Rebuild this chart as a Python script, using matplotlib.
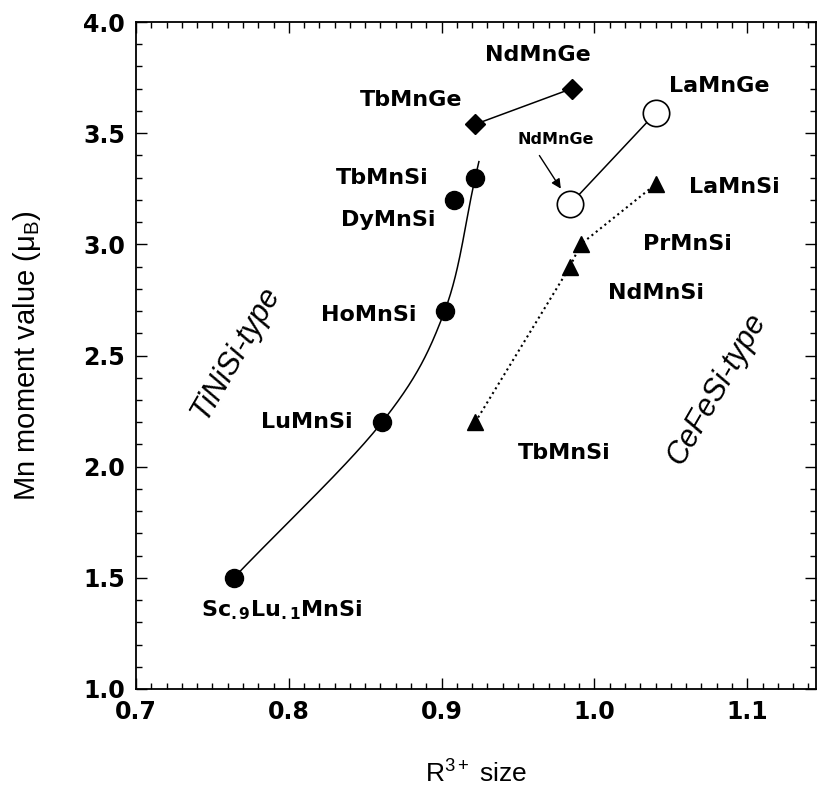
import matplotlib
matplotlib.use('Agg')
import matplotlib.pyplot as plt
from matplotlib.ticker import MultipleLocator
import numpy as np

plt.rcParams['font.family'] = ['Liberation Sans', 'DejaVu Sans']
plt.rcParams['mathtext.fontset'] = 'custom'
plt.rcParams['mathtext.rm'] = 'Liberation Sans'
plt.rcParams['mathtext.bf'] = 'DejaVu Sans:bold'
plt.rcParams['mathtext.it'] = 'Liberation Sans:italic'

# TiNiSi-type RMnSi (filled circles)
tinisi_names = [r'Sc$_{\mathbf{.9}}$Lu$_{\mathbf{.1}}$MnSi', 'LuMnSi', 'HoMnSi', 'DyMnSi', 'TbMnSi']
tinisi_r = [0.764, 0.861, 0.902, 0.908, 0.922]
tinisi_m = [1.50, 2.20, 2.70, 3.20, 3.30]

# TiNiSi-type RMnGe (diamonds)
ge_names = ['TbMnGe', 'NdMnGe']
ge_r = [0.922, 0.985]
ge_m = [3.54, 3.70]

# CeFeSi-type RMnGe (open circles)
cefe_ge_names = ['NdMnGe', 'LaMnGe']
cefe_ge_r = [0.984, 1.040]
cefe_ge_m = [3.18, 3.59]

# CeFeSi-type RMnSi (triangles)
cefe_si_names = ['TbMnSi', 'NdMnSi', 'PrMnSi', 'LaMnSi']
cefe_si_r = [0.922, 0.984, 0.991, 1.040]
cefe_si_m = [2.20, 2.90, 3.00, 3.27]


def smooth_curve(ax, xs, ys, n=60, tail=0.12):
    # Catmull-Rom spline through the points, done in display space
    pts = ax.transData.transform(np.column_stack([xs, ys]))
    p = np.vstack([2 * pts[0] - pts[1], pts, 2 * pts[-1] - pts[-2]])
    out = []
    for i in range(1, len(p) - 2):
        p0, p1, p2, p3 = p[i - 1], p[i], p[i + 1], p[i + 2]
        t = np.linspace(0, 1, n)[:, None]
        out.append(0.5 * (2 * p1 + (-p0 + p2) * t + (2 * p0 - 5 * p1 + 4 * p2 - p3) * t ** 2
                          + (-p0 + 3 * p1 - 3 * p2 + p3) * t ** 3))
    out.append(pts[-1] + tail * (pts[-1] - pts[-2]))
    out = np.vstack(out)
    return ax.transData.inverted().transform(out).T


fig = plt.figure(figsize=(8.17, 7.86), dpi=100)
ax = fig.add_axes([136 / 817, 1 - 689 / 786, (816 - 136) / 817, (689 - 22) / 786])
ax.set_xlim(0.7, 1.145)
ax.set_ylim(1.0, 4.0)

# guide-to-the-eye: passes Sc, Lu, Ho and Tb, grazing Dy
keep = [0, 1, 2, 4]
cx, cy = smooth_curve(ax, [tinisi_r[i] for i in keep], [tinisi_m[i] for i in keep])
ax.plot(cx, cy, color='k', lw=1.1, zorder=2)
ax.plot(tinisi_r, tinisi_m, 'o', color='k', ms=13, zorder=3)

ax.plot(ge_r, ge_m, '-D', color='k', ms=10, lw=1.1, zorder=3)
ax.plot(cefe_ge_r, cefe_ge_m, '-o', color='k', mfc='white', mec='k', mew=1.2, ms=19, lw=1.1, zorder=3)
ax.plot(cefe_si_r, cefe_si_m, ':', color='k', lw=1.5, zorder=2)
ax.plot(cefe_si_r, cefe_si_m, '^', color='k', ms=12, zorder=3)

lab = dict(fontsize=16, fontweight='bold', family='DejaVu Sans', ha='center', va='center')
# label positions for the points
ax.text(0.795, 1.356, tinisi_names[0], **lab)
ax.text(0.812, 2.20, tinisi_names[1], **lab)
ax.text(0.852, 2.68, tinisi_names[2], **lab)
ax.text(0.865, 3.11, tinisi_names[3], **lab)
ax.text(0.861, 3.30, tinisi_names[4], **lab)
ax.text(0.880, 3.65, ge_names[0], **lab)
ax.text(0.963, 3.85, ge_names[1], **lab)
ax.text(1.082, 3.71, cefe_ge_names[1], **lab)
ax.text(0.975, 3.47, cefe_ge_names[0], fontsize=11.5, fontweight='bold', family='DejaVu Sans',
        ha='center', va='center')
ax.annotate('', xy=(0.979, 3.24), xytext=(0.963, 3.41),
            arrowprops=dict(arrowstyle='-|>', color='k', lw=1.0, mutation_scale=14))
ax.text(0.980, 2.06, cefe_si_names[0], **lab)
ax.text(1.0405, 2.78, cefe_si_names[1], **lab)
ax.text(1.061, 3.00, cefe_si_names[2], **lab)
ax.text(1.0915, 3.26, cefe_si_names[3], **lab)

ax.text(0.765, 2.51, 'TiNiSi-type', fontsize=22, style='italic', rotation=60,
        ha='center', va='center')
ax.text(1.080, 2.35, 'CeFeSi-type', fontsize=22, style='italic', rotation=60,
        ha='center', va='center')

ax.xaxis.set_major_locator(MultipleLocator(0.1))
ax.xaxis.set_minor_locator(MultipleLocator(0.01))
ax.yaxis.set_major_locator(MultipleLocator(0.5))
ax.yaxis.set_minor_locator(MultipleLocator(0.1))
ax.set_xticks(np.arange(0.7, 1.15, 0.1))
ax.set_xticklabels(['0.7', '0.8', '0.9', '1.0', '1.1'])
ax.tick_params(which='both', direction='in', top=True, right=True, width=1.0)
ax.tick_params(which='major', length=8, labelsize=17, pad=8)
ax.tick_params(which='minor', length=4)
for t in ax.get_xticklabels() + ax.get_yticklabels():
    t.set_fontweight('bold')
    t.set_family('DejaVu Sans')
for s in ax.spines.values():
    s.set_linewidth(1.3)

ax.set_xlabel(r'R$^{\mathregular{3+}}$ size', fontsize=19, labelpad=26)
ax.set_ylabel(r'Mn moment value (μ$_{\mathregular{B}}$)', fontsize=21, labelpad=29)

fig.savefig('out.png', dpi=100)
